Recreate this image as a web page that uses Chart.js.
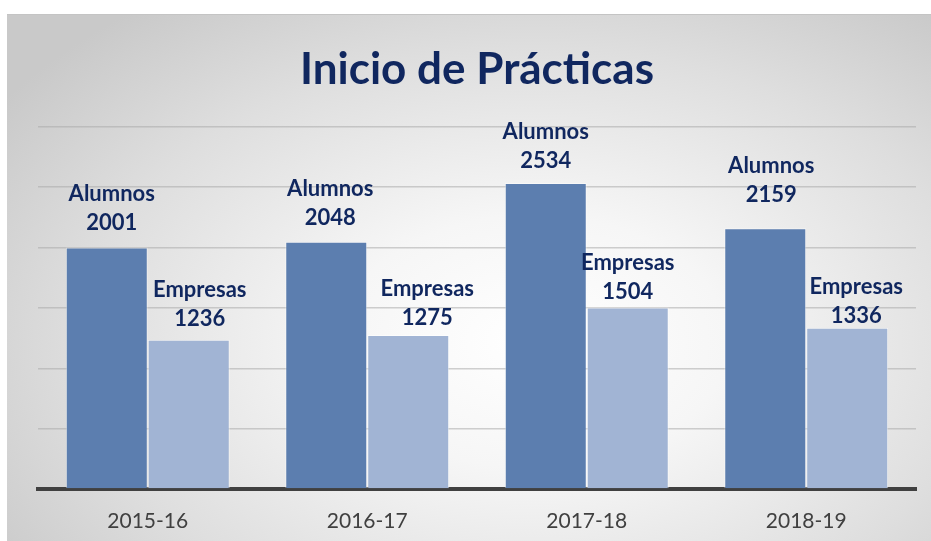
<!DOCTYPE html>
<html>
<head>
<meta charset="utf-8">
<script src="https://cdn.jsdelivr.net/npm/chart.js@4"></script>
<style>
  html, body { margin: 0; padding: 0; background: #fff; }
  #wrap {
    position: absolute; left: 7px; top: 14px; width: 924px; height: 527px;
    background: radial-gradient(ellipse 70% 80% at 57% 62%, #ffffff 0%, #f6f6f6 30%, #dedede 70%, #c9c9c9 100%);
    border-top: 1px solid #c4c4c4;
  }
  canvas { display: block; }
</style>
</head>
<body>
<div id="wrap"><canvas id="chart" width="924" height="527"></canvas></div>
<script>
var categories = ['2015-16', '2016-17', '2017-18', '2018-19'];
var seriesNames = ['Alumnos', 'Empresas'];
var alumnos = [2001, 2048, 2534, 2159];
var empresas = [1236, 1275, 1504, 1336];
var yTicks = [0, 500, 1000, 1500, 2000, 2500, 3000];

// label nudges (Excel labels were moved by hand)
var labelDx = [[5, 4, 0, 6], [11, 19, 0, 9]];
var labelDy = [[-25, -24, -22, -33], [-21, -17, -16, -12]];

var navy = '#10275f';

var barLabels = {
    id: 'barLabels',
    afterDatasetsDraw: function (chart) {
        var ctx = chart.ctx;
        ctx.save();
        ctx.fillStyle = navy;
        ctx.textAlign = 'center';
        ctx.textBaseline = 'middle';
        ctx.font = 'bold 22px Lato';
        chart.data.datasets.forEach(function (ds, i) {
            var meta = chart.getDatasetMeta(i);
            meta.data.forEach(function (bar, j) {
                var x = bar.x + labelDx[i][j];
                var y = bar.y + labelDy[i][j];
                ctx.fillText(ds.label, x, y - 29);
                ctx.fillText(String(ds.data[j]), x, y);
            });
        });
        ctx.restore();
    }
};

new Chart(document.getElementById('chart'), {
    type: 'bar',
    data: {
        labels: categories,
        datasets: [
            { label: seriesNames[0], data: alumnos, backgroundColor: '#5c7eaf', borderColor: 'rgba(255,255,255,0.45)', borderWidth: 1 },
            { label: seriesNames[1], data: empresas, backgroundColor: '#a1b4d4', borderColor: 'rgba(255,255,255,0.55)', borderWidth: 1 }
        ]
    },
    options: {
        responsive: false,
        animation: false,
        layout: { padding: { left: 31, right: 15, top: 0, bottom: 8 } },
        datasets: { bar: { barPercentage: 1, categoryPercentage: 0.747 } },
        plugins: {
            legend: { display: false },
            tooltip: { enabled: false },
            title: {
                display: true,
                text: 'Inicio de Prácticas',
                color: navy,
                font: { family: 'Lato', size: 44, weight: 'bold', lineHeight: 1.2 },
                padding: { top: 28, bottom: 31 }
            }
        },
        scales: {
            x: {
                grid: { display: false, drawTicks: false },
                border: { display: true, color: '#404040', width: 4 },
                ticks: { color: '#404040', padding: 20, font: { family: 'Lato', size: 21 } },
                afterFit: function (scale) { scale.height = 45; }
            },
            y: {
                min: yTicks[0],
                max: yTicks[yTicks.length - 1],
                afterBuildTicks: function (scale) {
                    scale.ticks = yTicks.map(function (v) { return { value: v }; });
                },
                afterFit: function (scale) { scale.width = 0; },
                ticks: { display: false },
                border: { display: false },
                grid: { color: 'rgba(170,170,170,0.55)', lineWidth: 1.5, drawTicks: false }
            }
        }
    },
    plugins: [barLabels]
});
</script>
</body>
</html>
